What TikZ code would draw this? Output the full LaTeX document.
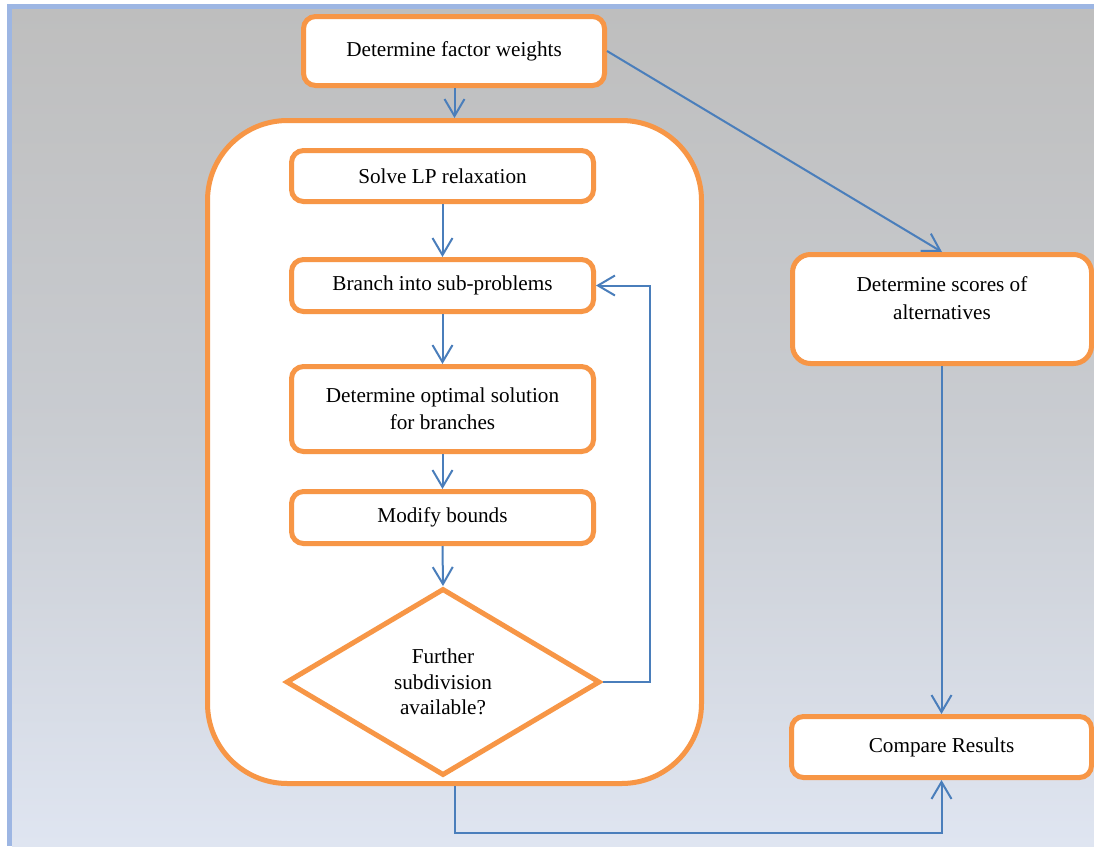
\documentclass[tikz,border=0pt]{standalone}
\usepackage{fontspec}
\setmainfont{Liberation Serif}
\usetikzlibrary{shapes.geometric,arrows.meta}
\definecolor{obord}{HTML}{F79646}
\definecolor{conn}{HTML}{4A7EBB}
\definecolor{frameb}{HTML}{9DB6E3}
\definecolor{bgtop}{HTML}{BEBEBE}
\definecolor{bgmid}{HTML}{C9CCD1}
\definecolor{bgbot}{HTML}{DFE5F1}
\tikzset{
  proc/.style={draw=obord, line width=5pt, fill=white, rounded corners=12pt, inner sep=0pt,
    align=center, font=\fontsize{21.2}{27}\selectfont},
  conn/.style={draw=conn, line width=2pt, -{Straight Barb[length=17pt,width=20pt]}},
}
\begin{document}
\begin{tikzpicture}[x=1pt,y=-1pt]
\useasboundingbox (0,0) rectangle (1094,846);
% background
\fill[frameb] (7,4) rectangle (1094,846);
\shade[top color=bgtop, bottom color=bgbot, middle color=bgmid] (12,9) rectangle (1094,846);
% container
\node[proc, rounded corners=80pt, minimum width=494pt, minimum height=663pt] (box) at (454.5,452) {};
% nodes
\node[proc, minimum width=301pt, minimum height=69pt] (fw) at (454,51) {\raisebox{-2pt}{Determine factor weights}};
\node[proc, minimum width=302pt, minimum height=51pt] (lp) at (442.5,176) {Solve LP relaxation};
\node[proc, minimum width=302pt, minimum height=52pt] (br) at (442.5,285.5) {Branch into sub-problems};
\node[proc, minimum width=302pt, minimum height=85pt] (opt) at (442.5,409) {Determine optimal solution\\for branches};
\node[proc, minimum width=302pt, minimum height=52pt] (mod) at (442.5,517.5) {Modify bounds};
\node[proc, diamond, rounded corners=0pt, minimum width=314pt, minimum height=187pt, shape aspect=1.68, font=\fontsize{21.2}{25.5}\selectfont] (dm) at (443,682) {Further\\subdivision\\available?};
\node[proc, rounded corners=18pt, minimum width=299pt, minimum height=109pt] (sc) at (942,309) {};
\node[align=center, font=\fontsize{21.2}{28}\selectfont, inner sep=0pt] (sct) at (942,298) {Determine scores of\\alternatives};
\node[proc, minimum width=300pt, minimum height=61pt] (cr) at (941.5,747) {Compare Results};
% connectors
\coordinate (loopx) at (650,285.5);
\coordinate (bot) at (941.5,833);
\draw[conn] (fw.south -| box.north) -- (box.north);
\draw[conn] (fw.east) -- (sc.north);
\draw[conn] (lp.south) -- (br.north);
\draw[conn] (br.south) -- (opt.north);
\draw[conn] (opt.south) -- (mod.north);
\draw[conn] (mod.south) -- (dm.north);
\draw[conn] (dm.east) -| (loopx) -- (br.east);
\draw[conn] (sc.south -| cr.north) -- (cr.north);
\draw[conn] (box.south) |- (bot) -- (cr.south);
\end{tikzpicture}
\end{document}
